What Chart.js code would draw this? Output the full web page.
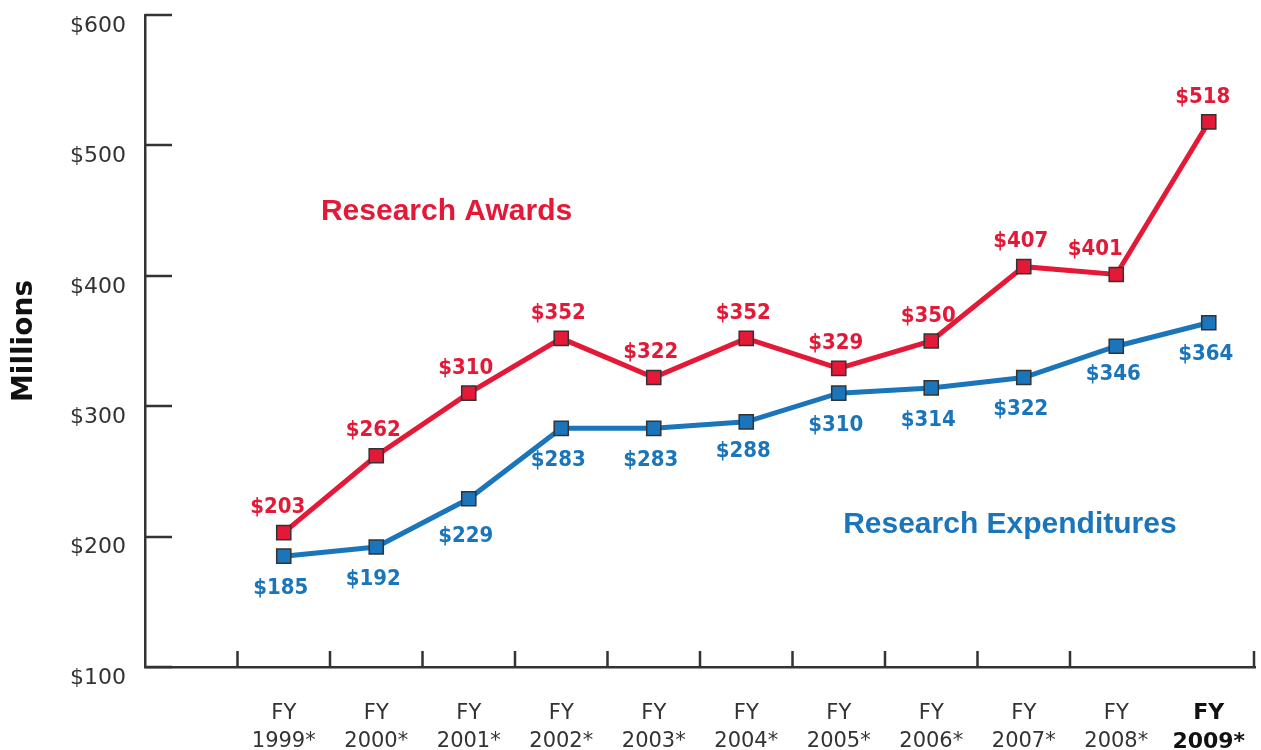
<!DOCTYPE html>
<html lang="en">
<head>
<meta charset="UTF-8">
<title>Research Awards and Expenditures</title>
<script src="https://cdn.jsdelivr.net/npm/chart.js"></script>
<style>
    body { margin: 0; background: #fff; }
    #wrap { width: 1261px; height: 750px; }
</style>
</head>
<body>
<div id="wrap"><canvas id="myChart"></canvas></div>
<script>
    // fiscal years shown on the x axis
    const years = ['1999*', '2000*', '2001*', '2002*', '2003*', '2004*', '2005*', '2006*', '2007*', '2008*', '2009*'];
    // values in millions of dollars
    const awards = [203, 262, 310, 352, 322, 352, 329, 350, 407, 401, 518];
    const expenditures = [185, 192, 229, 283, 283, 288, 310, 314, 322, 346, 364];
    const yTicks = [100, 200, 300, 400, 500, 600];

    const RED = '#e31937';
    const BLUE = '#1a75bb';
    const INK = '#333333';

    // first slot on the axis stays empty
    const labels = [''].concat(years.map(y => ['FY', y]));
    const lastIdx = labels.length - 1;

    // inward tick marks on both axes
    const innerTicks = {
        id: 'innerTicks',
        afterDraw(chart) {
            const {ctx, chartArea, scales} = chart;
            const x = scales.x, y = scales.y;
            ctx.save();
            ctx.strokeStyle = INK;
            ctx.lineWidth = 2.5;
            ctx.beginPath();
            yTicks.forEach(v => {
                const py = Math.round(y.getPixelForValue(v));
                ctx.moveTo(chartArea.left, py);
                ctx.lineTo(chartArea.left + 27, py);
            });
            for (let i = 1; i <= lastIdx; i++) {
                const px = i < lastIdx
                    ? (x.getPixelForValue(i - 1) + x.getPixelForValue(i)) / 2
                    : chartArea.right - 1;
                ctx.moveTo(px, chartArea.bottom);
                ctx.lineTo(px, chartArea.bottom - 16);
            }
            ctx.stroke();
            ctx.restore();
        }
    };

    // value labels over / under each point, plus series names
    const valueLabels = {
        id: 'valueLabels',
        afterDatasetsDraw(chart, args, opts) {
            const {ctx, scales} = chart;
            ctx.save();
            ctx.font = 'bold 22px "DejaVu Sans Condensed", sans-serif';
            ctx.textAlign = 'center';
            ctx.textBaseline = 'middle';
            chart.data.datasets.forEach((ds, di) => {
                const meta = chart.getDatasetMeta(di);
                const nudge = opts.nudge[di] || {};
                ctx.fillStyle = ds.borderColor;
                meta.data.forEach((pt, i) => {
                    const v = ds.data[i];
                    if (v == null) return;
                    const n = nudge[i] || [0, 0];
                    const dy = di === 0 ? -25 : 32;
                    ctx.fillText('$' + v, pt.x - 3 + n[0], pt.y + dy + n[1]);
                });
            });
            ctx.font = 'bold 30px "Liberation Sans", Arial, sans-serif';
            opts.names.forEach(t => {
                ctx.fillStyle = t.color;
                ctx.fillText(t.text, scales.x.getPixelForValue(t.at[0]), scales.y.getPixelForValue(t.at[1]));
            });
            ctx.restore();
        }
    };

    const ctx = document.getElementById('myChart').getContext('2d');
    new Chart(ctx, {
        type: 'line',
        data: {
            labels: labels,
            datasets: [{
                label: 'Research Awards',
                data: [null].concat(awards),
                borderColor: RED,
                backgroundColor: RED,
                borderWidth: 5,
                pointStyle: 'rect',
                pointRadius: 10,
                pointBorderColor: INK,
                pointBorderWidth: 1.5,
                pointBackgroundColor: RED
            }, {
                label: 'Research Expenditures',
                data: [null].concat(expenditures),
                borderColor: BLUE,
                backgroundColor: BLUE,
                borderWidth: 5,
                pointStyle: 'rect',
                pointRadius: 10,
                pointBorderColor: INK,
                pointBorderWidth: 1.5,
                pointBackgroundColor: BLUE
            }]
        },
        options: {
            responsive: true,
            maintainAspectRatio: false,
            animation: false,
            layout: { autoPadding: false, padding: { top: 15, right: 6, left: 0, bottom: 0 } },
            plugins: {
                legend: { display: false },
                tooltip: { enabled: false },
                valueLabels: {
                    // indices follow the chart data, which has the blank first slot
                    nudge: { 0: { 1: [-3, 0], 10: [-18, 0], 11: [-3, 0] }, 1: { 3: [0, 5], 6: [0, -3], 10: [0, -4] } },
                    names: [
                        { text: 'Research Awards', color: RED, at: [2.76, 449] },
                        { text: 'Research Expenditures', color: BLUE, at: [8.85, 209] }
                    ]
                }
            },
            scales: {
                x: {
                    type: 'category',
                    offset: true,
                    grid: { display: false, drawTicks: false },
                    border: { display: true, color: INK, width: 2.5 },
                    afterFit: scale => {
                        scale.height = 83;
                        scale.paddingLeft = 0;
                        scale.paddingRight = 0;
                    },
                    ticks: {
                        autoSkip: false,
                        maxRotation: 0,
                        padding: 32,
                        color: c => c.index === lastIdx ? '#111' : INK,
                        font: c => c.index === lastIdx
                            ? { family: '"DejaVu Sans", sans-serif', size: 22, weight: 'bold', lineHeight: 1.3 }
                            : { family: '"DejaVu Sans", sans-serif', size: 21, lineHeight: 1.35 }
                    }
                },
                y: {
                    min: 100,
                    max: 600,
                    grid: { display: false, drawTicks: false },
                    border: { display: true, color: INK, width: 2.5 },
                    afterFit: scale => {
                        scale.width = 145;
                        scale.paddingTop = 0;
                        scale.paddingBottom = 0;
                    },
                    afterBuildTicks: scale => { scale.ticks = yTicks.map(v => ({ value: v })); },
                    ticks: {
                        padding: 19,
                        labelOffset: 11,
                        color: INK,
                        font: { family: '"DejaVu Sans", sans-serif', size: 22 },
                        callback: v => '$' + v
                    },
                    title: {
                        display: true,
                        text: 'Millions',
                        color: '#111',
                        padding: { top: 8, bottom: 0 },
                        font: { family: '"DejaVu Sans", sans-serif', size: 28, weight: 'bold' }
                    }
                }
            }
        },
        plugins: [innerTicks, valueLabels]
    });
</script>
</body>
</html>
